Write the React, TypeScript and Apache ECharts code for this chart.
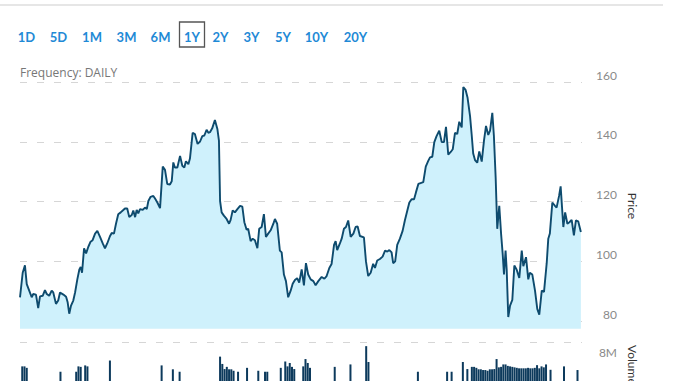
import React, { useEffect, useRef } from "react";
import * as echarts from "echarts";

// ---- data ----
const rangeLabels = ["1D", "5D", "1M", "3M", "6M", "1Y", "2Y", "3Y", "5Y", "10Y", "20Y"];
const selectedRange = "1Y";
const frequencyText = "Frequency: DAILY";
const priceTicks = [80, 100, 120, 140, 160];

// trading-day position of each traced price point (0 .. 250)
const dayIndex = [
  0.0, 1.2, 2.2, 3.0, 4.1, 5.2, 5.9, 7.1, 8.1, 8.9, 10.1, 11.1, 11.9, 13.0, 14.1, 14.8, 16.0, 17.0, 17.8, 19.3,
  20.5, 21.2, 21.9, 22.7, 23.7, 24.5, 25.5, 26.4, 27.0, 27.6, 28.5, 29.4, 30.4, 31.4, 32.3, 33.4, 34.4, 35.6, 36.8, 37.8,
  38.8, 40.0, 40.8, 41.8, 42.7, 43.7, 44.8, 45.7, 46.7, 47.7, 48.6, 49.7, 50.4, 51.2, 51.9, 52.6, 53.4, 54.6, 55.6, 56.4,
  57.1, 58.1, 59.3, 60.0, 61.1, 62.3, 63.5, 64.5, 65.5, 66.7, 67.5, 68.2, 68.9, 70.0, 71.2, 72.2, 73.1, 73.8, 74.9, 75.6,
  76.8, 77.8, 79.0, 80.1, 81.1, 82.0, 83.0, 83.8, 84.5, 85.5, 86.7, 87.8, 88.5, 89.0, 89.7, 90.7, 91.9, 93.0, 93.7, 94.6,
  95.6, 96.7, 97.9, 98.9, 99.8, 100.8, 101.5, 102.6, 103.5, 104.5, 105.6, 106.4, 107.5, 108.5, 109.4, 110.4, 111.5, 112.7, 113.4, 114.4,
  115.6, 116.4, 117.4, 118.3, 119.3, 120.4, 121.3, 122.3, 123.3, 124.2, 125.3, 126.3, 127.2, 128.2, 129.3, 130.5, 131.5, 132.7, 134.2, 135.4,
  136.4, 137.6, 138.6, 139.7, 140.4, 141.1, 142.3, 143.1, 144.1, 145.0, 146.0, 147.1, 148.3, 149.3, 150.2, 151.2, 153.0, 153.9, 154.9, 156.0,
  157.1, 157.9, 158.9, 160.1, 161.3, 162.4, 163.4, 164.3, 165.3, 166.0, 166.9, 167.8, 169.0, 170.2, 171.2, 172.3, 173.2, 174.2, 175.3, 176.1,
  177.2, 178.2, 179.4, 180.5, 181.6, 182.4, 183.4, 184.3, 185.3, 186.5, 187.6, 188.6, 189.5, 190.5, 191.6, 192.5, 193.5, 194.5, 195.4, 196.5,
  197.2, 198.2, 199.1, 200.2, 200.9, 201.6, 202.4, 203.4, 204.3, 205.4, 206.4, 207.3, 208.3, 209.1, 210.1, 210.8, 211.6, 212.3, 213.2, 214.0,
  214.7, 215.3, 216.0, 216.5, 217.2, 218.0, 219.0, 219.9, 220.9, 222.1, 223.2, 223.9, 225.1, 226.1, 226.8, 227.9, 229.1, 230.1, 231.0, 232.1,
  233.1, 234.3, 235.0, 235.7, 236.8, 238.0, 238.7, 239.8, 240.5, 241.7, 242.5, 243.5, 244.4, 245.4, 246.4, 247.3, 248.3, 249.5,
];

const priceValues = [
  88.0, 96.2, 98.7, 92.4, 90.2, 88.0, 89.1, 88.9, 84.4, 88.3, 88.5, 90.4, 89.1, 88.5, 90.2, 89.6, 85.8, 86.9, 89.6, 88.9,
  88.2, 86.3, 82.5, 85.2, 86.9, 89.6, 94.0, 97.3, 98.1, 96.2, 104.4, 102.7, 104.9, 106.6, 107.1, 109.3, 110.2, 108.2, 106.0, 104.4,
  106.0, 108.4, 109.5, 109.3, 112.6, 115.8, 116.4, 117.0, 117.7, 117.7, 114.8, 115.5, 117.0, 114.8, 117.2, 116.1, 117.5, 117.2, 118.0, 117.5,
  120.2, 121.6, 121.9, 121.1, 119.7, 117.8, 131.7, 130.6, 125.9, 125.7, 126.8, 133.1, 131.4, 131.4, 135.3, 132.0, 131.4, 133.5, 132.5, 134.4,
  143.0, 142.6, 139.3, 140.1, 141.9, 142.1, 144.0, 143.0, 143.2, 144.5, 147.3, 144.3, 140.4, 120.2, 116.4, 115.3, 114.2, 112.6, 113.9, 117.0,
  116.4, 117.5, 118.6, 118.3, 113.1, 110.6, 110.9, 106.8, 107.6, 107.1, 104.4, 110.9, 111.5, 115.8, 108.2, 109.3, 110.4, 112.6, 114.2, 112.6,
  103.6, 103.0, 95.6, 93.4, 88.0, 90.2, 92.5, 93.8, 94.4, 92.9, 97.3, 92.0, 99.4, 95.6, 94.0, 93.4, 92.0, 93.4, 94.8, 94.2,
  95.1, 97.8, 99.1, 105.5, 106.8, 103.8, 106.0, 107.6, 110.9, 111.5, 113.7, 108.2, 109.3, 111.5, 111.7, 108.5, 108.0, 100.0, 95.1, 96.2,
  99.2, 97.8, 100.3, 100.8, 101.6, 103.6, 103.3, 103.8, 103.0, 99.4, 100.0, 105.5, 107.6, 110.2, 113.7, 117.0, 119.7, 120.8, 120.8, 123.0,
  125.9, 126.2, 126.5, 131.7, 133.6, 134.8, 135.0, 139.9, 141.9, 143.7, 139.9, 139.9, 145.0, 135.7, 136.6, 137.5, 143.0, 142.6, 146.7, 144.8,
  158.3, 157.4, 154.7, 148.6, 142.6, 136.1, 133.9, 133.0, 136.8, 133.4, 140.4, 145.3, 142.3, 143.7, 149.7, 142.1, 127.9, 110.9, 118.6, 109.3,
  102.7, 95.6, 103.6, 97.3, 81.4, 85.2, 87.1, 98.6, 97.3, 94.5, 103.6, 98.4, 101.4, 94.0, 96.2, 95.6, 90.2, 84.1, 82.2, 90.2,
  89.8, 99.4, 107.6, 109.3, 119.7, 118.6, 118.0, 121.9, 125.1, 111.5, 116.4, 112.6, 113.1, 113.9, 108.7, 113.7, 113.4, 109.8,
];

// volume bars (day, millions) that are visible above the picture's lower edge
const volumeDays = [
  1, 2, 3, 18, 25, 26, 27, 29, 30, 40, 63, 68, 71, 89, 90, 91, 92, 93, 94, 95, 97, 101, 106, 109, 110, 116, 118, 119, 120, 121,
  122, 126, 127, 128, 129, 140, 147, 154, 155, 177, 190, 192, 197, 199, 201, 202, 203, 204, 205, 206, 207, 208, 209, 210, 211, 212, 213, 214, 215, 216,
  217, 218, 219, 220, 221, 222, 223, 224, 225, 226, 227, 228, 229, 230, 231, 232, 233, 234, 236, 242, 248,
];
const volumeValues = [
  3.0, 3.0, 2.7, 1.9, 1.9, 3.0, 2.9, 3.2, 3.0, 4.2, 3.2, 2.4, 1.9, 5.0, 3.5, 2.45, 2.9, 2.4, 2.4, 2.1, 1.9, 2.7, 2.1, 1.9, 1.9, 2.7, 4.0, 3.0, 3.7, 2.9,
  2.45, 3.0, 4.5, 3.7, 2.7, 2.9, 3.4, 7.15, 3.9, 1.9, 1.9, 1.9, 3.9, 2.45, 2.9, 2.9, 2.7, 2.4, 2.4, 2.25, 2.25, 2.1, 2.4, 2.4, 2.45, 4.5, 2.8, 2.9, 3.4, 3.4,
  3.1, 3.0, 2.9, 2.8, 2.7, 2.6, 2.6, 2.6, 2.6, 2.7, 2.6, 2.6, 2.7, 3.25, 2.6, 3.0, 2.8, 3.4, 2.3, 3.0, 2.25,
];

// ---- styles / layout ----
const BLUE = "#1f8ad6";
const LINE = "#0e4b6e";
const AREA = "#cff1fc";
const GRID_LINE = "#d6d6d6";
const AXIS_TEXT = "#8a8a8a";
const FONT = "Lato, 'Open Sans', sans-serif";
const FREQ_FONT = "'Open Sans', Lato, sans-serif";
const buttonCenters = [26.5, 58.5, 92, 126.5, 160.5, 192, 220.5, 251.5, 283, 316.5, 355.5];

export default function App() {
  const ref = useRef<HTMLDivElement>(null);

  useEffect(() => {
    if (!ref.current) return;
    const chart = echarts.init(ref.current, undefined, { renderer: "svg" });

    const priceData = dayIndex.map((d, i) => [d, priceValues[i]]);
    const volumeData = volumeDays.map((d, i) => [d, volumeValues[i]]);

    const graphics: any[] = [
      { type: "rect", shape: { x: 0, y: 4, width: 663, height: 2 }, style: { fill: "#e6e6e6" }, silent: true },
    ];
    rangeLabels.forEach((lab, i) => {
      graphics.push({
        type: "text",
        x: buttonCenters[i],
        y: 37,
        style: {
          text: lab,
          fill: BLUE,
          font: `bold 13px ${FONT}`,
          textAlign: "center",
          textVerticalAlign: "middle",
          align: "center",
          verticalAlign: "middle",
        },
      });
      if (lab === selectedRange) {
        graphics.push({
          type: "rect",
          shape: { x: buttonCenters[i] - 12.5, y: 22, width: 25, height: 25 },
          style: { fill: "none", stroke: "#555", lineWidth: 1.3 },
        });
      }
    });
    graphics.push({
      type: "text",
      x: 20,
      y: 72,
      style: {
        text: frequencyText,
        fill: "#777",
        font: `12px ${FREQ_FONT}`,
        textAlign: "left",
        textVerticalAlign: "middle",
        align: "left",
        verticalAlign: "middle",
      },
    });
    graphics.push({
      type: "text",
      x: 632,
      y: 206,
      rotation: -Math.PI / 2,
      style: {
        text: "Price",
        fill: "#333",
        font: `12px ${FONT}`,
        textAlign: "center",
        textVerticalAlign: "middle",
        align: "center",
        verticalAlign: "middle",
      },
    });
    graphics.push({
      type: "text",
      x: 632,
      y: 345,
      rotation: -Math.PI / 2,
      style: {
        text: "Volume",
        fill: "#333",
        font: `12px ${FONT}`,
        textAlign: "left",
        textVerticalAlign: "middle",
        align: "left",
        verticalAlign: "middle",
      },
    });

    const dashed = { show: true, lineStyle: { color: GRID_LINE, type: [7, 10] as any, width: 1 } };

    chart.setOption({
      animation: false,
      graphic: graphics,
      grid: [
        { left: 20, right: 96, top: 82, height: 304 },
        { left: 20, right: 96, top: 342, height: 50 },
      ],
      xAxis: [
        { type: "value", gridIndex: 0, min: 0, max: 250, show: false },
        { type: "value", gridIndex: 1, min: 0, max: 250, show: false },
      ],
      yAxis: [
        {
          type: "value",
          gridIndex: 0,
          position: "right",
          min: 60,
          max: 160,
          interval: 20,
          axisLine: { show: false },
          axisTick: { show: false },
          splitLine: dashed,
          axisLabel: {
            align: "right",
            margin: 35,
            verticalAlign: "bottom",
            padding: [0, 0, 1, 0],
            color: AXIS_TEXT,
            fontSize: 12,
            fontFamily: FONT,
            formatter: (v: number) => (priceTicks.includes(v) ? String(v) : ""),
          },
        },
        {
          type: "value",
          gridIndex: 1,
          position: "right",
          min: 0,
          max: 8,
          interval: 8,
          axisLine: { show: false },
          axisTick: { show: false },
          splitLine: dashed,
          axisLabel: {
            align: "right",
            margin: 35,
            verticalAlign: "top",
            padding: [4, 0, 0, 0],
            color: AXIS_TEXT,
            fontSize: 12,
            fontFamily: FONT,
            formatter: (v: number) => (v === 8 ? "8M" : ""),
          },
        },
      ],
      series: [
        {
          type: "line",
          xAxisIndex: 0,
          yAxisIndex: 0,
          data: priceData,
          showSymbol: false,
          symbol: "none",
          lineStyle: { color: LINE, width: 1.9 },
          areaStyle: { color: AREA, opacity: 1, origin: 77.5 },
        },
        {
          type: "bar",
          xAxisIndex: 1,
          yAxisIndex: 1,
          data: volumeData,
          barWidth: 2,
          itemStyle: { color: "#0d3a5c" },
        },
      ],
    });

    return () => chart.dispose();
  }, []);

  return (
    <div
      ref={ref}
      style={{ position: "absolute", left: 0, top: 0, width: 678, height: 381, background: "#fff" }}
    />
  );
}
